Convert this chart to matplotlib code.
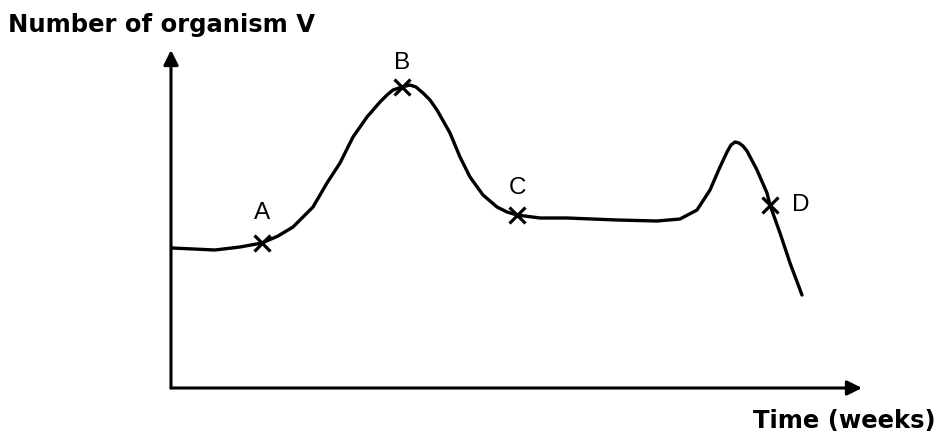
import matplotlib.pyplot as plt

# curve (arbitrary units: time, number of organism V)
t = [1, 44, 69, 91, 107, 122, 142, 156, 169, 182, 196, 209, 216, 222, 231,
     239, 245, 252, 259, 266, 279, 289, 299, 312, 326, 336, 346, 369, 396,
     446, 486, 509, 526, 539, 549, 556, 560, 564, 568, 572, 576, 586, 596,
     599, 609, 619, 631]
n = [140, 138, 141, 145, 152, 161, 181, 205, 225, 251, 271, 286, 293, 298, 301,
     303, 301, 295, 288, 278, 255, 231, 211, 193, 181, 176, 173, 170, 170,
     168, 167, 169, 178, 198, 221, 236, 243, 246, 245, 242, 237, 218, 195,
     183, 155, 125, 93]

labels = ["A", "B", "C", "D"]
pt_t = [91, 231, 346, 599]
pt_n = [145, 301, 173, 183]

W, H = 942, 445
fig = plt.figure(figsize=(W / 100, H / 100), dpi=100)
plt.rcParams['font.family'] = ['Liberation Sans', 'DejaVu Sans']

x0, y0, x1, y1 = 171, 388, 862, 50
ax = fig.add_axes([x0 / W, 1 - y0 / H, (x1 - x0) / W, (y0 - y1) / H])
ax.set_xlim(0, x1 - x0)
ax.set_ylim(0, y0 - y1)
for s in ax.spines.values():
    s.set_visible(False)
ax.set_xticks([])
ax.set_yticks([])

# axes with arrows
arr = dict(arrowstyle='-|>', lw=2.2, color='black', mutation_scale=22,
           shrinkA=0, shrinkB=0)
ax.annotate('', xy=(0, 1), xytext=(0, 0), xycoords='axes fraction',
            arrowprops=arr, annotation_clip=False)
ax.annotate('', xy=(1, 0), xytext=(0, 0), xycoords='axes fraction',
            arrowprops=arr, annotation_clip=False)

ax.plot(t, n, color='black', lw=2.4, solid_capstyle='round',
        solid_joinstyle='round', clip_on=False)
ax.plot(pt_t, pt_n, 'x', color='black', ms=12, mew=2.3, clip_on=False)

offs = [(0, 30, 'center'), (0, 24, 'center'), (0, 27, 'center'), (22, 0, 'left')]
for lab, xx, yy, (dx, dy, ha) in zip(labels, pt_t, pt_n, offs):
    ax.text(xx + dx, yy + dy, lab, fontsize=17.5, ha=ha, va='center')

fig.text(8 / W, 1 - 32 / H, "Number of organism V", fontsize=17.5,
         family='DejaVu Sans', fontweight='bold', ha='left', va='baseline')
fig.text(753 / W, 1 - 428 / H, "Time (weeks)", fontsize=17.5,
         family='DejaVu Sans', fontweight='bold', ha='left', va='baseline')

fig.savefig("out.png", dpi=100)
